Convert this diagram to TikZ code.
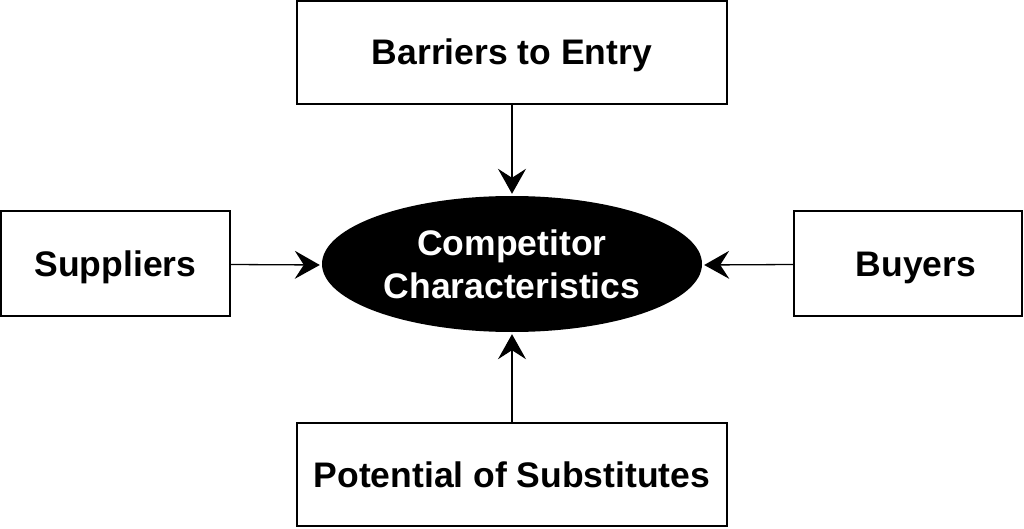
\documentclass[tikz,border=0pt]{standalone}
\usepackage{fontspec}
\setmainfont{Liberation Sans}
\usetikzlibrary{arrows.meta,shapes.geometric}
\begin{document}
\begin{tikzpicture}[x=1pt,y=1pt,
  box/.style={draw=black,line width=1.5pt,fill=white,inner sep=0pt,text height=28pt,text depth=3pt,font=\fontsize{35.5}{42}\selectfont\bfseries},
  conn/.style={line width=1.3pt,-{Stealth[length=25pt,width=28pt,inset=9pt]},shorten >=2pt}]
\useasboundingbox (0,0) rectangle (1024,528);
\node[box,minimum width=430pt,minimum height=103pt] (top) at (512,475.5) {Barriers to Entry};
\node[box,minimum width=229pt,minimum height=105pt] (left) at (115.5,264.5) {Suppliers};
\node[box,minimum width=228pt,minimum height=105pt] (right) at (908,264.5) {\hspace*{16pt}Buyers};
\node[box,minimum width=430pt,minimum height=103pt] (bot) at (512,53.5) {Potential of Substitutes};
\node[ellipse,fill=black,text=white,inner sep=0pt,minimum width=380pt,minimum height=136pt,align=center,font=\fontsize{35.5}{43}\selectfont\bfseries] (c) at (512,264) {Competitor\\Characteristics};
\draw[conn] (top.south) -- (c.north);
\draw[conn] (bot.north) -- (c.south);
\draw[conn] ([yshift=-1pt]left.east) -- ([yshift=-1pt]c.west);
\draw[conn] ([yshift=-1pt]right.west) -- ([yshift=-1pt]c.east);
\end{tikzpicture}
\end{document}
